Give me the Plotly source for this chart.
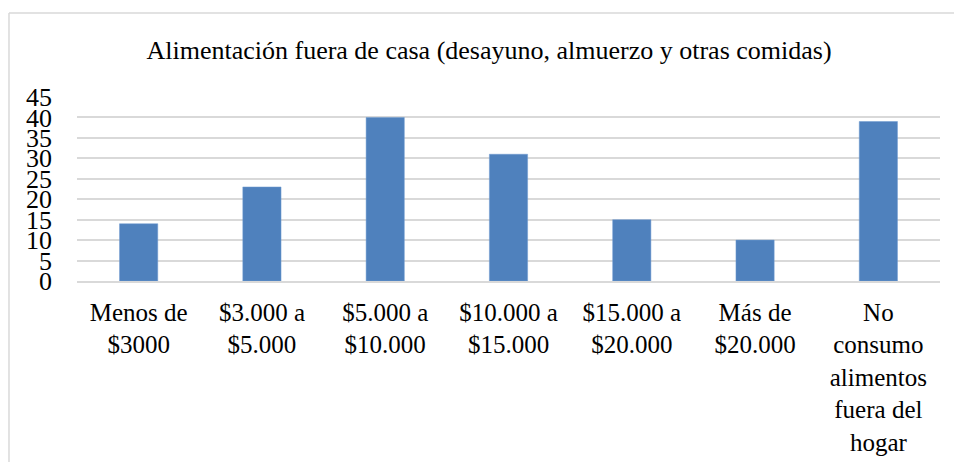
import plotly.graph_objects as go

# categories (x axis) and counts per category
categories = ['Menos de<br>$3000', '$3.000 a<br>$5.000', '$5.000 a<br>$10.000',
              '$10.000 a<br>$15.000', '$15.000 a<br>$20.000', 'Más de<br>$20.000',
              'No<br>consumo<br>alimentos<br>fuera del<br>hogar']
values = [14, 23, 40, 31, 15, 10, 39]
y_ticks = [0, 5, 10, 15, 20, 25, 30, 35, 40, 45]

serif = 'Liberation Serif'

fig = go.Figure()
fig.add_trace(go.Bar(
    x=categories,
    y=values,
    marker=dict(color='#4F81BD', line=dict(color='#6E9AD0', width=0.5)),
    width=0.31,
))

fig.update_layout(
    width=954, height=462,
    margin=dict(l=77, r=14, t=97, b=181),
    paper_bgcolor='white', plot_bgcolor='white',
    showlegend=False,
    title=dict(text='Alimentación fuera de casa (desayuno, almuerzo y otras comidas)',
               x=0.5126, xanchor='center', y=0.892, yanchor='middle',
               font=dict(family=serif, size=26, color='black')),
    font=dict(family=serif, size=26, color='black'),
    shapes=[
        # outer chart border (only left and top visible in the crop)
        dict(type='line', xref='paper', yref='paper', x0=-0.0788, x1=-0.0788, y0=-2, y1=1.4565,
             line=dict(color='#D9D9D9', width=1.5)),
        dict(type='line', xref='paper', yref='paper', x0=-0.0788, x1=1.2, y0=1.4565, y1=1.4565,
             line=dict(color='#D9D9D9', width=1.5)),
    ],
)
fig.update_yaxes(range=[0, 45], tickvals=y_ticks, showgrid=True, gridcolor='#D9D9D9', gridwidth=1.5,
                 zeroline=False, showline=False, ticks='', ticklabelstandoff=24, automargin=False,
                 tickfont=dict(family=serif, size=26, color='black'))
fig.update_xaxes(showline=True, linecolor='#D9D9D9', linewidth=1.5, ticks='',
                 ticklabelstandoff=8, tickangle=0, automargin=False,
                 tickfont=dict(family=serif, size=25, color='black'))

fig.write_html('out.html', config={'displayModeBar': False},
               post_script="document.body.style.margin='0';")
